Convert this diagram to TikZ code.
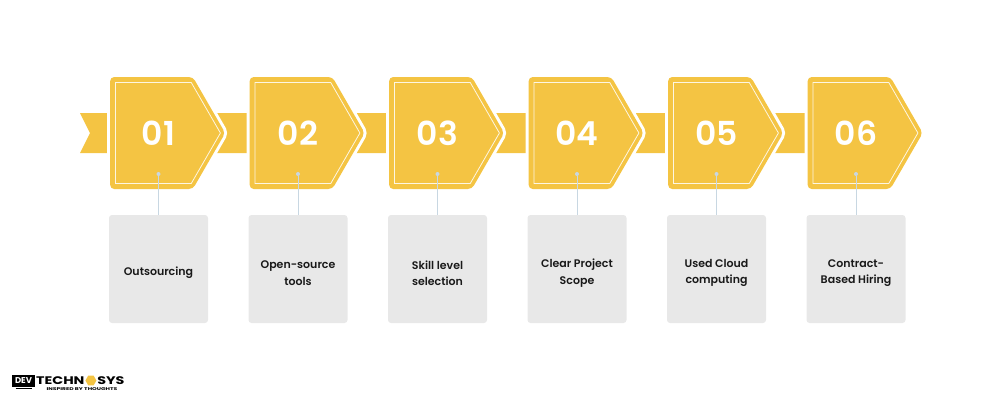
\documentclass[tikz,border=0pt]{standalone}
\usepackage{fontspec}
\setmainfont{Poppins}
\newfontfamily\numfont{Poppins}[UprightFont=*-SemiBold]
\newfontfamily\labelfont{Poppins}[UprightFont=*-SemiBold]
\newfontfamily\logofont{Poppins}[UprightFont=*-Bold]
\usetikzlibrary{positioning,shapes.symbols,shapes.geometric}
\definecolor{stepyellow}{HTML}{F4C443}
\definecolor{boxgray}{HTML}{E8E8E8}
\definecolor{linkblue}{HTML}{C8D7E2}

\begin{document}
\begin{tikzpicture}[x=1pt,y=-1pt,
	pentagon/.style={signal, signal to=east, signal pointer angle=120, anchor=west,
		minimum width=115pt, minimum height=112pt, inner sep=0pt, rounded corners=4pt,
		fill=stepyellow, preaction={draw=white, line width=6pt}},
	innerline/.style={signal, signal to=east, signal pointer angle=120, anchor=west,
		minimum width=105pt, minimum height=101pt, inner sep=0pt,
		draw=white, draw opacity=0.85, line width=0.8pt},
	number/.style={text=white, font=\numfont\fontsize{33}{33}\selectfont, inner sep=0pt},
	dot/.style={circle, fill=linkblue, minimum size=4pt, inner sep=0pt},
	cardtext/.style={align=center, font=\labelfont\fontsize{11}{16.5}\selectfont,
		text=black!90, inner sep=0pt, yshift=-4pt},
	card/.style={fill=boxgray, rounded corners=3pt, minimum width=99pt, minimum height=108pt,
		label={[cardtext]center:{#1}}},
	link/.style={draw=linkblue, line width=0.9pt}]
	\useasboundingbox (0,0) rectangle (1000,400);
	% band behind the steps
	\fill[stepyellow] (80,113) -- (807.5,113) -- (807.5,153) -- (80,153) -- (90,133) -- cycle;
	\node[pentagon] (p1) at (110,133) {};
	\node[pentagon] (p2) at (249.5,133) {};
	\node[pentagon] (p3) at (389,133) {};
	\node[pentagon] (p4) at (528.5,133) {};
	\node[pentagon] (p5) at (668,133) {};
	\node[pentagon] (p6) at (807.5,133) {};
	\node[innerline] (q1) at (115,133) {};
	\node[innerline] (q2) at (254.5,133) {};
	\node[innerline] (q3) at (394,133) {};
	\node[innerline] (q4) at (533.5,133) {};
	\node[innerline] (q5) at (673,133) {};
	\node[innerline] (q6) at (812.5,133) {};
	\node[number] (n1) at (158.5,133) {01};
	\node[number] (n2) at (298,133) {02};
	\node[number] (n3) at (437.5,133) {03};
	\node[number] (n4) at (577,133) {04};
	\node[number] (n5) at (716.5,133) {05};
	\node[number] (n6) at (856,133) {06};
	\node[dot] (d1) at (158.5,174) {};
	\node[dot] (d2) at (298,174) {};
	\node[dot] (d3) at (437.5,174) {};
	\node[dot] (d4) at (577,174) {};
	\node[dot] (d5) at (716.5,174) {};
	\node[dot] (d6) at (856,174) {};
	\node[card={Outsourcing}] (b1) at (158.5,269) {};
	\node[card={Open-source\\tools}] (b2) at (298,269) {};
	\node[card={Skill level\\selection}] (b3) at (437.5,269) {};
	\node[card={Clear Project\\Scope}] (b4) at (577,269) {};
	\node[card={Used Cloud\\computing}] (b5) at (716.5,269) {};
	\node[card={Contract-\\Based Hiring}] (b6) at (856,269) {};
	\draw[link] (d1) -- (b1.north);
	\draw[link] (d2) -- (b2.north);
	\draw[link] (d3) -- (b3.north);
	\draw[link] (d4) -- (b4.north);
	\draw[link] (d5) -- (b5.north);
	\draw[link] (d6) -- (b6.north);
	% logo
	\node[fill=black, text=white, minimum width=23pt, minimum height=12pt, inner sep=0pt,
		font=\logofont\fontsize{8.5}{8.5}\selectfont] (dev) at (23.5,381) {DEV};
	\draw[line width=1.2pt] ([xshift=-8pt,yshift=-1.5pt]dev.south) -- ([xshift=8pt,yshift=-1.5pt]dev.south);
	\node[anchor=west, inner sep=0pt, font=\logofont\addfontfeatures{FakeStretch=1.3}\fontsize{11}{11}\selectfont] (techn) at (36,380.5) {TECHN};
	\node[regular polygon, regular polygon sides=6, fill=stepyellow, minimum size=11pt, inner sep=0pt, right=0.5pt of techn] (gear) {};
	\node[right=0.5pt of gear, inner sep=0pt, font=\logofont\addfontfeatures{FakeStretch=1.3}\fontsize{11}{11}\selectfont] (sys) {SYS};
	\node[inner sep=0pt, font=\logofont\addfontfeatures{FakeStretch=1.5}\fontsize{4}{4}\selectfont] (motto) at (82,389.5) {INSPIRED BY THOUGHTS};
\end{tikzpicture}
\end{document}
